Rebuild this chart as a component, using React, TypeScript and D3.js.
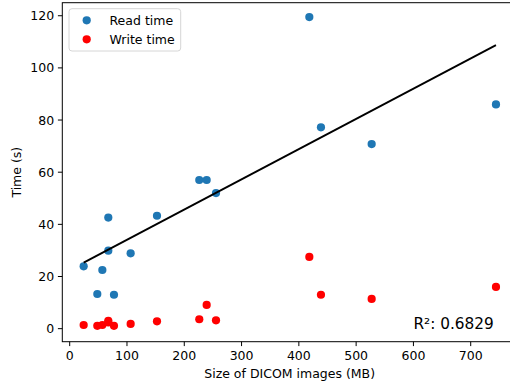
import React from "react";
import * as d3 from "d3";

const sizesMB = [24.4, 48.2, 57, 67.4, 67.4, 77.3, 106.4, 152.4, 226.2, 239.1, 255.4, 418.3, 438.6, 527.1, 744.1];
const readTime = [23.9, 13.3, 22.5, 42.6, 29.9, 13.0, 28.9, 43.3, 57.0, 57.0, 52.0, 119.5, 77.2, 70.8, 86.0];
const writeTime = [1.4, 1.1, 1.4, 3.0, 2.4, 1.1, 1.8, 2.8, 3.6, 9.1, 3.2, 27.5, 13.0, 11.4, 16.0];
const xTicks = [0, 100, 200, 300, 400, 500, 600, 700];
const yTicks = [0, 20, 40, 60, 80, 100, 120];
const seriesNames = ["Read time", "Write time"];
const r2Label = "R²: 0.6829";
const r2Pos = [600, 0];

const W = 510, H = 388;
const L = 62.3, R = 517, T = 2.7, B = 341.7;
const FONT = "DejaVu Sans, sans-serif";
const BLUE = "#1f77b4";
const RED = "#ff0000";
const MR = 4.1;

export default function App() {
  const x = d3.scaleLinear().domain([-12.9, 780.8]).range([L, R]);
  const y = d3.scaleLinear().domain([-5, 125]).range([B, T]);

  // least-squares fit of read time vs size
  const mx = d3.mean(sizesMB)!;
  const my = d3.mean(readTime)!;
  let sxy = 0, sxx = 0;
  sizesMB.forEach((v, i) => {
    sxy += (v - mx) * (readTime[i] - my);
    sxx += (v - mx) * (v - mx);
  });
  const slope = sxy / sxx;
  const intercept = my - slope * mx;
  const [xmin, xmax] = d3.extent(sizesMB) as [number, number];
  const line = d3.line<number>().x((d) => x(d)).y((d) => y(intercept + slope * d));

  const fs = 12.5;
  return (
    <svg width={W} height={H} style={{ position: "absolute", left: 0, top: 0, background: "#fff" }} fontFamily={FONT}>
      <rect x={0} y={0} width={W} height={H} fill="#fff" />
      <defs>
        <clipPath id="clip">
          <rect x={L} y={T} width={R - L} height={B - T} />
        </clipPath>
      </defs>
      <g clipPath="url(#clip)">
        {sizesMB.map((v, i) => (
          <circle key={"r" + i} cx={x(v)} cy={y(readTime[i])} r={MR} fill={BLUE} />
        ))}
        {sizesMB.map((v, i) => (
          <circle key={"w" + i} cx={x(v)} cy={y(writeTime[i])} r={MR} fill={RED} />
        ))}
        <path d={line([xmin, xmax]) || ""} stroke="#000" strokeWidth={1.9} fill="none" />
      </g>
      {/* spines */}
      <rect x={L} y={T} width={R - L} height={B - T} fill="none" stroke="#000" strokeWidth={1} />
      {/* x ticks */}
      {xTicks.map((t) => (
        <g key={"xt" + t}>
          <line x1={x(t)} x2={x(t)} y1={B} y2={B + 4.4} stroke="#000" strokeWidth={1} />
          <text x={x(t)} y={B + 18.6} textAnchor="middle" fontSize={fs} fill="#000">{t}</text>
        </g>
      ))}
      {yTicks.map((t) => (
        <g key={"yt" + t}>
          <line x1={L} x2={L - 4.4} y1={y(t)} y2={y(t)} stroke="#000" strokeWidth={1} />
          <text x={L - 8.2} y={y(t)} dy="0.36em" textAnchor="end" fontSize={fs} fill="#000">{t}</text>
        </g>
      ))}
      <text x={(L + R) / 2} y={377.5} textAnchor="middle" fontSize={fs} fill="#000">Size of DICOM images (MB)</text>
      <text transform={`translate(20.5,${(T + B) / 2}) rotate(-90)`} textAnchor="middle" fontSize={fs} fill="#000">Time (s)</text>
      <text x={x(r2Pos[0])} y={y(r2Pos[1])} fontSize={15.3} fill="#000">{r2Label}</text>
      {/* legend */}
      <rect x={69} y={8.7} width={111.7} height={42.3} rx={3} fill="#fff" fillOpacity={0.8} stroke="#d6d6d6" strokeWidth={1} />
      {seriesNames.map((n, i) => (
        <g key={n}>
          <circle cx={86.7} cy={20.3 + i * 19} r={MR} fill={i === 0 ? BLUE : RED} />
          <text x={109.5} y={20.3 + i * 19} dy="0.36em" fontSize={fs} fill="#000">{n}</text>
        </g>
      ))}
    </svg>
  );
}
